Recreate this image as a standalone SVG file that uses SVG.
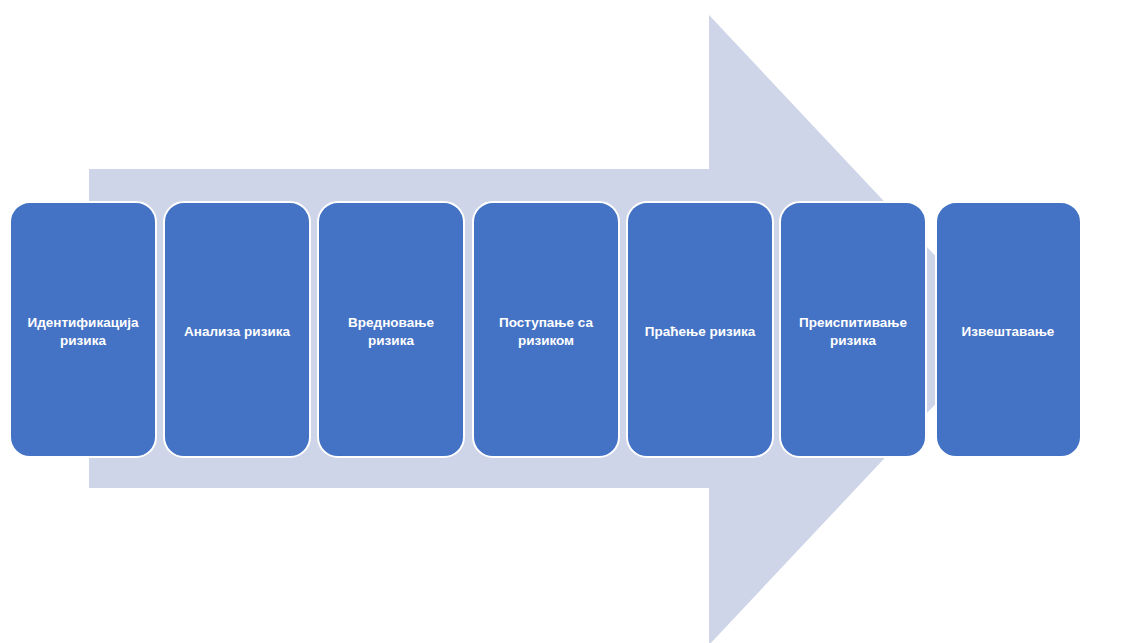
<svg xmlns="http://www.w3.org/2000/svg" width="1122" height="643" viewBox="0 0 1122 643">
<style>
.bg{fill:#ffffff}
.arrow{fill:#CFD5E8}
.box{fill:#4472C4;stroke:#ffffff;stroke-width:2}
.lbl{fill:#ffffff;font-family:"Liberation Sans",Arial,sans-serif;font-size:13.5px;font-weight:bold;text-anchor:middle}
</style>
<rect class="bg" x="0" y="0" width="1122" height="643"/>
<g id="connectors">
<path class="arrow" d="M89,169 L709,169 L709,15 L1005,330 L709,645 L709,488 L89,488 Z"/>
</g>
<g id="n1"><rect class="box" x="10" y="202" width="146" height="255" rx="20"/><text class="lbl" x="83" y="327">Идентификација</text><text class="lbl" x="83" y="345">ризика</text></g>
<g id="n2"><rect class="box" x="164" y="202" width="146" height="255" rx="20"/><text class="lbl" x="237" y="336">Анализа ризика</text></g>
<g id="n3"><rect class="box" x="318" y="202" width="146" height="255" rx="20"/><text class="lbl" x="391" y="327">Вредновање</text><text class="lbl" x="391" y="345">ризика</text></g>
<g id="n4"><rect class="box" x="473" y="202" width="146" height="255" rx="20"/><text class="lbl" x="546" y="327">Поступање са</text><text class="lbl" x="546" y="345">ризиком</text></g>
<g id="n5"><rect class="box" x="627" y="202" width="146" height="255" rx="20"/><text class="lbl" x="700" y="336">Праћење ризика</text></g>
<g id="n6"><rect class="box" x="780" y="202" width="146" height="255" rx="20"/><text class="lbl" x="853" y="327">Преиспитивање</text><text class="lbl" x="853" y="345">ризика</text></g>
<g id="n7"><rect class="box" x="936" y="202" width="145" height="255" rx="20"/><text class="lbl" x="1008" y="336">Извештавање</text></g>
</svg>
